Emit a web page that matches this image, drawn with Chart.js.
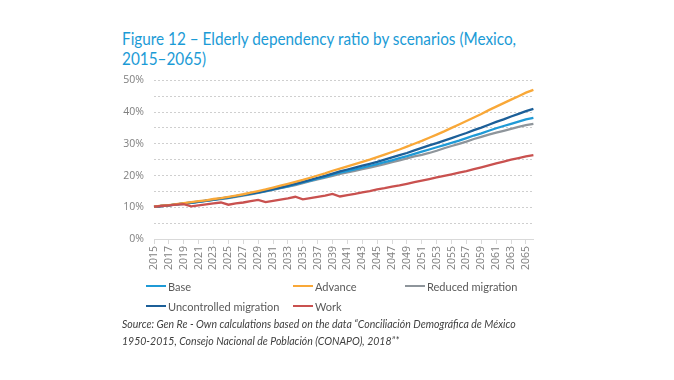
<!DOCTYPE html>
<html>
<head>
<meta charset="utf-8">
<script src="https://cdn.jsdelivr.net/npm/chart.js@4.4.1/dist/chart.umd.min.js"></script>
<style>
  body { margin: 0; background: #fff; width: 674px; height: 380px; position: relative; overflow: hidden; font-family: Lato, sans-serif; }
  #title { position: absolute; left: 122px; top: 29px; font-size: 17.5px; line-height: 20px; color: #1b9bd6; white-space: nowrap; transform: scaleX(0.875); transform-origin: left top; }
  #wrap { position: absolute; left: 100px; top: 64px; }
  #legend { position: absolute; left: 146px; top: 278px; display: grid; grid-template-columns: 147px 112px auto; row-gap: 4px; font-size: 11px; color: #595959; }
  #legend div { display: flex; align-items: center; height: 16px; }
  #legend span.sw { display: inline-block; width: 20px; height: 2.5px; margin-right: 2px; }
  #source { position: absolute; left: 122px; top: 316px; font-size: 10.5px; line-height: 17px; font-style: italic; color: #404040; }
</style>
</head>
<body>
<div id="title">Figure 12 – Elderly dependency ratio by scenarios (Mexico,<br>2015–2065)</div>
<div id="wrap"><canvas id="chart" width="448" height="215"></canvas></div>
<div id="legend"></div>
<div id="source">Source: Gen Re - Own calculations based on the data “Conciliación Demográfica de México<br>1950-2015, Consejo Nacional de Población (CONAPO), 2018”*</div>
<script>
// years on the x axis (only every other one gets a label)
const years = []
for (let y = 2015; y <= 2066; y++) years.push(y)

const yTicks = [0, 10, 20, 30, 40, 50]

// ratios in %
const base = [
  10.1, 10.4, 10.6, 10.9, 11.1, 11.4, 11.7, 12.0, 12.3, 12.7,
  13.0, 13.4, 13.8, 14.2, 14.6, 15.1, 15.6, 16.1, 16.6, 17.2,
  17.8, 18.4, 19.0, 19.6, 20.3, 20.9, 21.4, 21.9, 22.5, 23.0,
  23.6, 24.2, 24.8, 25.5, 26.1, 26.8, 27.5, 28.2, 28.9, 29.6,
  30.3, 31.0, 31.8, 32.6, 33.3, 34.1, 34.9, 35.6, 36.3, 37.0,
  37.7, 38.2
]
const advance = [
  10.2, 10.5, 10.7, 11.0, 11.3, 11.6, 11.9, 12.2, 12.6, 12.9,
  13.3, 13.7, 14.1, 14.6, 15.1, 15.6, 16.2, 16.8, 17.4, 18.0,
  18.6, 19.3, 20.0, 20.7, 21.5, 22.2, 22.9, 23.6, 24.3, 25.0,
  25.8, 26.6, 27.4, 28.2, 29.1, 30.0, 30.9, 31.9, 32.9, 33.9,
  35.0, 36.1, 37.2, 38.3, 39.4, 40.6, 41.7, 42.8, 43.9, 45.0,
  46.1, 47.0
]
const reduced = [
  10.1, 10.4, 10.6, 10.9, 11.1, 11.4, 11.7, 12.0, 12.3, 12.6,
  12.9, 13.3, 13.7, 14.1, 14.5, 15.0, 15.5, 16.0, 16.5, 17.0,
  17.6, 18.2, 18.8, 19.3, 19.9, 20.5, 21.0, 21.5, 22.0, 22.5,
  23.0, 23.6, 24.2, 24.8, 25.4, 26.0, 26.5, 27.1, 27.8, 28.6,
  29.3, 30.0, 30.7, 31.5, 32.2, 32.9, 33.5, 34.1, 34.7, 35.3,
  35.9, 36.3
]
const uncontrolled = [
  10.1, 10.4, 10.6, 10.9, 11.2, 11.5, 11.8, 12.1, 12.4, 12.8,
  13.1, 13.5, 13.9, 14.3, 14.7, 15.2, 15.7, 16.2, 16.8, 17.4,
  18.0, 18.6, 19.3, 19.9, 20.6, 21.3, 21.9, 22.5, 23.1, 23.7,
  24.3, 25.0, 25.7, 26.4, 27.1, 27.9, 28.7, 29.5, 30.2, 31.0,
  31.8, 32.6, 33.4, 34.3, 35.1, 36.0, 36.9, 37.7, 38.6, 39.4,
  40.3, 41.0
]
const work = [
  10.2, 10.4, 10.6, 10.8, 11.0, 10.3, 10.6, 10.9, 11.2, 11.5,
  10.8, 11.2, 11.5, 11.9, 12.3, 11.6, 12.0, 12.4, 12.8, 13.3,
  12.5, 12.9, 13.3, 13.7, 14.2, 13.4, 13.8, 14.2, 14.7, 15.1,
  15.6, 16.0, 16.5, 16.9, 17.4, 17.9, 18.4, 18.9, 19.4, 19.9,
  20.4, 20.9, 21.4, 22.0, 22.6, 23.2, 23.8, 24.4, 25.0, 25.5,
  26.0, 26.4
]

const series = [
  { label: 'Base', data: base, color: '#1f9ad6' },
  { label: 'Advance', data: advance, color: '#f9a838' },
  { label: 'Reduced migration', data: reduced, color: '#8e959b' },
  { label: 'Uncontrolled migration', data: uncontrolled, color: '#1c5f98' },
  { label: 'Work', data: work, color: '#c9514f' }
]

const gray = '#7f7f7f'
const font = { family: '"Open Sans", sans-serif', size: 10.5 }

// draw order: grey & light blue under the dark blue, like the original
const order = { 'Reduced migration': 5, 'Base': 4, 'Uncontrolled migration': 3, 'Advance': 2, 'Work': 1 }

const chart = new Chart(document.getElementById('chart'), {
  type: 'line',
  data: {
    labels: years,
    datasets: series.map(s => ({
      label: s.label,
      data: s.data,
      borderColor: s.color,
      backgroundColor: s.color,
      borderWidth: 2.3,
      pointRadius: 0,
      tension: 0,
      order: order[s.label]
    }))
  },
  options: {
    responsive: false,
    animation: false,
    layout: { padding: { top: 1, right: 0, left: 0, bottom: 0 } },
    plugins: { legend: { display: false }, tooltip: { enabled: false } },
    scales: {
      x: {
        afterFit: (scale) => { scale.height = 40 },
        grid: {
          drawOnChartArea: false,
          tickLength: 5,
          tickColor: (ctx) => ctx.index % 2 ? 'rgba(0,0,0,0)' : '#d9d9d9'
        },
        border: { color: '#d9d9d9' },
        ticks: {
          autoSkip: false,
          maxRotation: 90,
          minRotation: 90,
          color: gray,
          font: font,
          padding: 2,
          callback: function (v, i) { return i % 2 ? '' : this.getLabelForValue(v) }
        }
      },
      y: {
        min: 0,
        max: 50,
        afterFit: (scale) => { scale.width = 54 },
        // in v4 the dash of the grid lines comes from border.dash
        border: { display: false, dash: [2, 2] },
        grid: {
          drawTicks: false,
          color: '#cfcfcf',
          lineWidth: 1
        },
        ticks: {
          stepSize: 5,
          color: gray,
          font: font,
          padding: 10,
          callback: (v) => yTicks.includes(v) ? v + '%' : ''
        }
      }
    }
  }
})

// legend laid out in a grid, as in the original
const legend = document.getElementById('legend')
series.forEach(s => {
  const item = document.createElement('div')
  item.innerHTML = '<span class="sw" style="background:' + s.color + '"></span>' + s.label
  legend.appendChild(item)
})
</script>
</body>
</html>
